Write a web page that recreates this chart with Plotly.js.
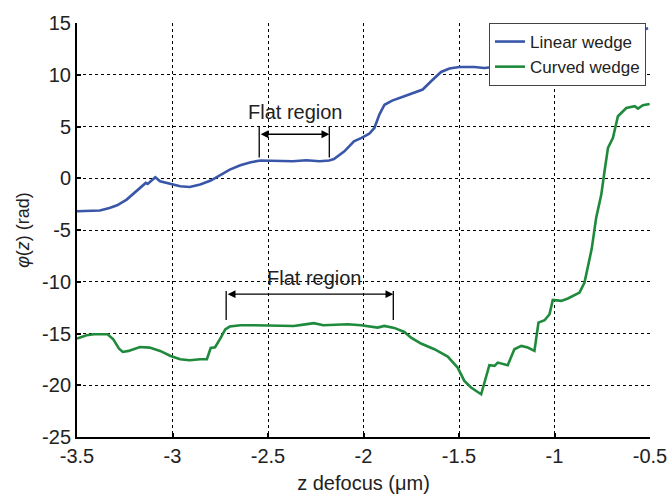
<!DOCTYPE html>
<html>
<head>
<meta charset="utf-8">
<script src="https://cdn.plot.ly/plotly-3.0.1.min.js"></script>
<style>html,body{margin:0;padding:0;background:#fff}#chart{width:668px;height:496px}</style>
</head>
<body>
<div id="chart"></div>
<script>
// Linear wedge
const linearZ = [-3.5,-3.43,-3.38,-3.33,-3.29,-3.24,-3.19,-3.14,-3.13,-3.09,-3.065,-3.01,-2.96,-2.91,-2.855,-2.80,-2.75,-2.70,-2.645,-2.59,-2.54,-2.45,-2.37,-2.30,-2.23,-2.18,-2.155,-2.10,-2.05,-2.01,-1.97,-1.943,-1.917,-1.89,-1.85,-1.79,-1.74,-1.69,-1.646,-1.594,-1.55,-1.498,-1.42,-1.367,-1.297,-1.2,-1.1,-1.0,-0.9,-0.8,-0.7,-0.6,-0.51];
const linearPhi = [-3.19,-3.19,-3.12,-2.87,-2.61,-2.06,-1.26,-0.45,-0.55,0.1,-0.29,-0.55,-0.77,-0.84,-0.61,-0.22,0.35,0.84,1.26,1.55,1.71,1.71,1.64,1.74,1.64,1.71,1.85,2.6,3.57,3.9,4.3,4.86,6.15,7.1,7.5,7.9,8.2,8.57,9.37,10.27,10.6,10.75,10.75,10.66,10.8,10.85,11.0,11.3,12.0,12.8,13.5,14.0,14.5];
// Curved wedge
const curvedZ = [-3.5,-3.45,-3.41,-3.34,-3.31,-3.28,-3.26,-3.23,-3.17,-3.12,-3.065,-3.01,-2.96,-2.91,-2.855,-2.82,-2.80,-2.777,-2.75,-2.724,-2.70,-2.645,-2.576,-2.506,-2.42,-2.366,-2.314,-2.26,-2.21,-2.155,-2.083,-2.013,-1.961,-1.926,-1.891,-1.839,-1.786,-1.751,-1.699,-1.629,-1.559,-1.507,-1.472,-1.437,-1.384,-1.367,-1.341,-1.314,-1.297,-1.245,-1.21,-1.174,-1.14,-1.105,-1.084,-1.052,-1.026,-1.009,-0.965,-0.93,-0.869,-0.843,-0.825,-0.805,-0.782,-0.755,-0.738,-0.72,-0.694,-0.668,-0.624,-0.58,-0.563,-0.537,-0.502];
const curvedPhi = [-15.49,-15.17,-15.07,-15.07,-15.56,-16.46,-16.78,-16.68,-16.3,-16.36,-16.68,-17.17,-17.49,-17.58,-17.49,-17.49,-16.4,-16.33,-15.49,-14.6,-14.33,-14.2,-14.2,-14.2,-14.27,-14.27,-14.14,-14.0,-14.2,-14.14,-14.1,-14.2,-14.37,-14.43,-14.27,-14.46,-14.85,-15.4,-15.97,-16.52,-17.23,-18.29,-19.58,-20.22,-20.87,-19.74,-18.07,-18.13,-17.81,-18.07,-16.52,-16.2,-16.36,-16.68,-13.95,-13.72,-13.14,-11.76,-11.85,-11.62,-11.05,-10.08,-8.47,-6.8,-3.83,-1.58,0.68,2.93,3.9,5.99,6.79,6.96,6.73,7.05,7.18];

const xTicks = [-3.5,-3,-2.5,-2,-1.5,-1,-0.5];
const xTickText = ['-3.5','-3','-2.5','-2','-1.5','-1','-0.5'];
const yTicks = [-25,-20,-15,-10,-5,0,5,10,15];
const yTickText = ['-25','-20','-15','-10','-5','0','5','10','15'];

const font = 'Arial, "Liberation Sans", sans-serif';
const txt = '#222';

const traces = [
  {x: linearZ, y: linearPhi, type: 'scatter', mode: 'lines', name: 'Linear wedge',
   line: {color: '#3a56a8', width: 2.6}},
  {x: curvedZ, y: curvedPhi, type: 'scatter', mode: 'lines', name: 'Curved wedge',
   line: {color: '#1f8a3b', width: 2.6}}
];

const ax = {
  showline: true, linecolor: '#000', linewidth: 2, mirror: false,
  showgrid: true, gridcolor: '#000', gridwidth: 1, griddash: 'dot',
  zeroline: false, ticks: 'inside', ticklen: 4, tickwidth: 2, tickcolor: '#000',
  tickfont: {family: font, size: 20, color: txt}
};

const layout = {
  width: 668, height: 496,
  margin: {l: 77, r: 18, t: 23, b: 59},
  paper_bgcolor: '#fff', plot_bgcolor: '#fff',
  font: {family: font, color: txt},
  xaxis: Object.assign({}, ax, {range: [-3.5, -0.5], tickvals: xTicks, ticktext: xTickText,
    title: {text: 'z defocus (μm)', font: {family: font, size: 20, color: txt}, standoff: 10}}),
  yaxis: Object.assign({}, ax, {range: [-25, 15], tickvals: yTicks, ticktext: yTickText,
    title: {text: '<i>φ</i>(<i>z</i>) (rad)', font: {family: font, size: 18, color: txt}, standoff: 8}}),
  showlegend: true,
  legend: {x: 0.993, y: 1.0, xanchor: 'right', yanchor: 'top', bgcolor: '#fff',
    bordercolor: '#444', borderwidth: 1, font: {family: font, size: 17, color: txt},
    tracegroupgap: 0, itemwidth: 30},
  shapes: [
    {type: 'line', xref: 'x', yref: 'y', x0: -2.546, x1: -2.546, y0: 5.0, y1: 2.0, line: {color: '#000', width: 1.3}},
    {type: 'line', xref: 'x', yref: 'y', x0: -2.179, x1: -2.179, y0: 5.0, y1: 2.0, line: {color: '#000', width: 1.3}},
    {type: 'line', xref: 'x', yref: 'y', x0: -2.719, x1: -2.719, y0: -10.9, y1: -13.7, line: {color: '#000', width: 1.3}},
    {type: 'line', xref: 'x', yref: 'y', x0: -1.844, x1: -1.844, y0: -10.9, y1: -13.7, line: {color: '#000', width: 1.3}}
  ],
  annotations: [
    {x: -2.179, y: 4.25, ax: -2.546, ay: 4.25, xref: 'x', yref: 'y', axref: 'x', ayref: 'y',
     text: '', showarrow: true, arrowhead: 2, startarrowhead: 2, arrowside: 'end+start', arrowsize: 1.2, arrowwidth: 1.3, arrowcolor: '#000'},
    {x: -1.844, y: -11.2, ax: -2.719, ay: -11.2, xref: 'x', yref: 'y', axref: 'x', ayref: 'y',
     text: '', showarrow: true, arrowhead: 2, startarrowhead: 2, arrowside: 'end+start', arrowsize: 1.2, arrowwidth: 1.3, arrowcolor: '#000'},
    {x: -2.357, y: 6.4, xref: 'x', yref: 'y', text: 'Flat region', showarrow: false,
     font: {family: font, size: 20, color: txt}},
    {x: -2.258, y: -9.6, xref: 'x', yref: 'y', text: 'Flat region', showarrow: false,
     font: {family: font, size: 20, color: txt}}
  ]
};

Plotly.newPlot('chart', traces, layout, {displayModeBar: false, staticPlot: true});
</script>
</body>
</html>
